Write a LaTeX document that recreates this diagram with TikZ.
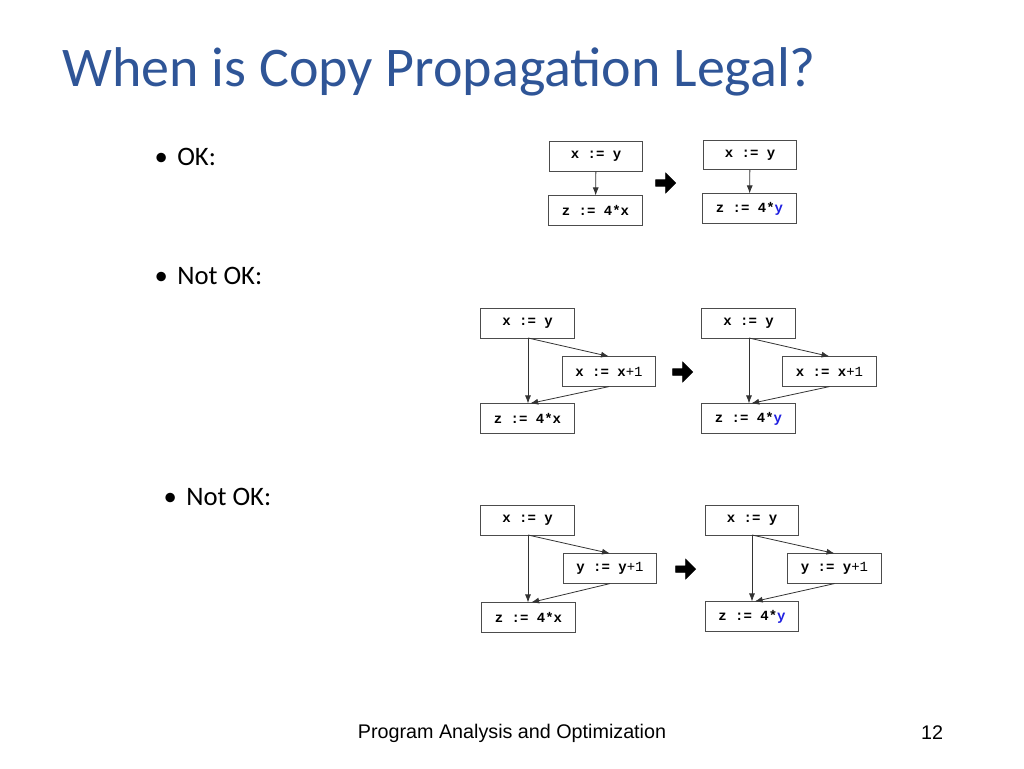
\documentclass[tikz,border=0pt]{standalone}
\usepackage{fontspec}
\setmainfont{Carlito}
\newfontfamily\foot{Liberation Sans}
\newfontfamily\mono{Liberation Mono}
\usetikzlibrary{shapes.arrows,arrows.meta}
\definecolor{ttl}{HTML}{2F5597}
\definecolor{vy}{HTML}{1F1FE0}
\tikzset{
 bx/.style={draw=black!70,line width=0.6pt,minimum width=70pt,minimum height=22pt,inner sep=0pt,font=\mono\bfseries\fontsize{10.5}{12}\selectfont},
 ed/.style={draw=black!80,line width=0.6pt,-{Latex[length=6pt,width=4.5pt]}},
 fat/.style={single arrow,fill=black,draw=black,minimum height=15pt,minimum width=15pt,single arrow head extend=2.5pt,inner sep=1pt},
 bul/.style={anchor=west,font=\fontsize{20}{22}\selectfont}
}
\newcommand{\by}{\textcolor{vy}{y}}
\newcommand{\bu}{\textbullet\hspace{7pt}}
\begin{document}
\begin{tikzpicture}[x=0.75pt,y=-0.75pt]
\useasboundingbox (0,0) rectangle (1024,768);
\node[anchor=west,text=ttl,font=\fontsize{42}{46}\selectfont] (t) at (58,72) {When is Copy Propaga{}tion Legal?};
\node[bul] (b1) at (150,157) {\bu OK:};
\node[bul] (b2) at (150,276) {\bu Not OK:};
\node[bul] (b3) at (159,497) {\bu Not OK:};
\node[font=\foot\fontsize{14.8}{16}\selectfont] (f) at (512,733) {Program Analysis and Optimization};
\node[font=\foot\fontsize{14.8}{16}\selectfont] (n) at (932,733) {12};
% OK
\node[bx] (a1) at (596,156.5) {x := y};
\node[bx] (a2) at (595.5,210.5) {z := 4*x};
\draw[ed] (a1) -- (a2);
\node[fat] (ar1) at (664,183) {};
\node[bx] (a3) at (750,155) {x := y};
\node[bx] (a4) at (749.5,208.5) {z := 4*\by};
\draw[ed] (a3) -- (a4);
% Not OK 1
\node[bx] (p1) at (527.5,323.5) {x := y};
\node[bx] (p2) at (609,371.5) {x := x{\mdseries+1}};
\node[bx] (p3) at (527.5,418.5) {z := 4*x};
\coordinate (p1s) at (528,338);
\draw[ed] (p1s) -- (p3.north -| p1s);
\draw[ed] (p1s) -- (p2.north);
\draw[ed] (p2.south) -- ([xshift=2pt]p3.north);
\node[fat] (ar2) at (681,372) {};
\node[bx] (q1) at (748.5,323.5) {x := y};
\node[bx] (q2) at (829.5,371.5) {x := x{\mdseries+1}};
\node[bx] (q3) at (748.5,418.5) {z := 4*\by};
\coordinate (q1s) at (749,338);
\draw[ed] (q1s) -- (q3.north -| q1s);
\draw[ed] (q1s) -- (q2.north);
\draw[ed] (q2.south) -- ([xshift=2pt]q3.north);
% Not OK 2
\node[bx] (r1) at (527.5,520.5) {x := y};
\node[bx] (r2) at (610,568.5) {y := y{\mdseries+1}};
\node[bx] (r3) at (528.5,617.5) {z := 4*x};
\coordinate (r1s) at (528,535);
\draw[ed] (r1s) -- (r3.north -| r1s);
\draw[ed] (r1s) -- (r2.north);
\draw[ed] (r2.south) -- ([xshift=2pt]r3.north);
\node[fat] (ar3) at (684,569) {};
\node[bx] (s1) at (752,520.5) {x := y};
\node[bx] (s2) at (834.5,568.5) {y := y{\mdseries+1}};
\node[bx] (s3) at (752,616.5) {z := 4*\by};
\coordinate (s1s) at (752,535);
\draw[ed] (s1s) -- (s3.north -| s1s);
\draw[ed] (s1s) -- (s2.north);
\draw[ed] (s2.south) -- ([xshift=2pt]s3.north);
\end{tikzpicture}
\end{document}
